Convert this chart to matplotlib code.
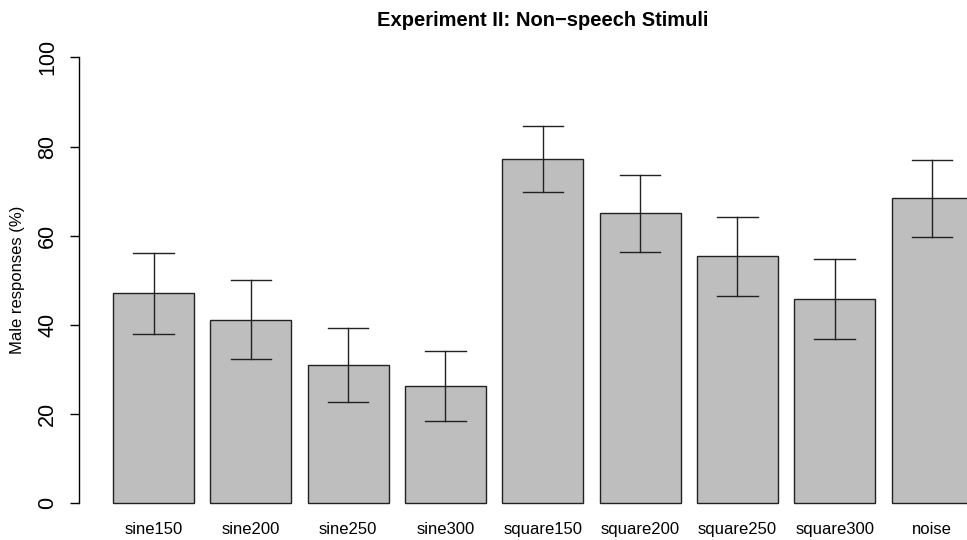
import numpy as np
import matplotlib
matplotlib.use('Agg')
import matplotlib.pyplot as plt

# ── Data ───────────────────────────────────────────────────────────────────
stimuli = ['sine150', 'sine200', 'sine250', 'sine300',
           'square150', 'square200', 'square250', 'square300', 'noise']
male_pct = [47.1, 41.2, 31.1, 26.4, 77.2, 65.2, 55.4, 45.7, 68.4]
ci_low   = [38.0, 32.3, 22.8, 18.4, 69.7, 56.4, 46.5, 36.8, 59.8]
ci_high  = [56.1, 50.0, 39.4, 34.2, 84.6, 73.6, 64.2, 54.7, 76.9]

plt.rcParams['font.family'] = ['Liberation Sans', 'DejaVu Sans']

W, H = 967, 540
fig = plt.figure(figsize=(W / 100, H / 100), dpi=100)

# plot region as in R barplot (extends past the right edge of the figure)
left_px, right_px = 78.6, 1007.0
top_px, bot_px = 39.5, 521.1
ax = fig.add_axes([left_px / W, 1 - bot_px / H,
                   (right_px - left_px) / W, (bot_px - top_px) / H])

n = len(stimuli)
x = 0.7 + 1.2 * np.arange(n)
ax.bar(x, male_pct, width=1.0, color='#BEBEBE', edgecolor='#222222',
       linewidth=1.0, zorder=2)

# error bars
cap = 0.25
for xi, lo, hi in zip(x, ci_low, ci_high):
    ax.plot([xi, xi], [lo, hi], color='#222222', lw=1.0, zorder=3)
    ax.plot([xi - cap, xi + cap], [lo, lo], color='#222222', lw=1.0, zorder=3)
    ax.plot([xi - cap, xi + cap], [hi, hi], color='#222222', lw=1.0, zorder=3)

ax.set_xlim(-0.224, 11.224)
ax.set_ylim(-4, 104)

for s in ['top', 'right', 'bottom']:
    ax.spines[s].set_visible(False)
ax.spines['left'].set_bounds(0, 100)
ax.spines['left'].set_linewidth(1.0)

ax.set_yticks([0, 20, 40, 60, 80, 100])
ax.set_yticklabels(['0', '20', '40', '60', '80', '100'],
                   rotation=90, va='center', fontsize=15.5)
ax.tick_params(axis='y', length=6.7, width=1.0, pad=8)

ax.set_xticks(x)
ax.set_xticklabels(stimuli, fontsize=12)
ax.tick_params(axis='x', length=0, pad=1)

fig.text(18 / W, 1 - 280 / H, 'Male responses (%)', rotation=90,
         ha='center', va='center', fontsize=12)
fig.text(543 / W, 1 - 20 / H, 'Experiment II: Non\u2212speech Stimuli',
         ha='center', va='center', fontsize=14.5, fontweight='bold')

fig.savefig('out.png', dpi=100)
